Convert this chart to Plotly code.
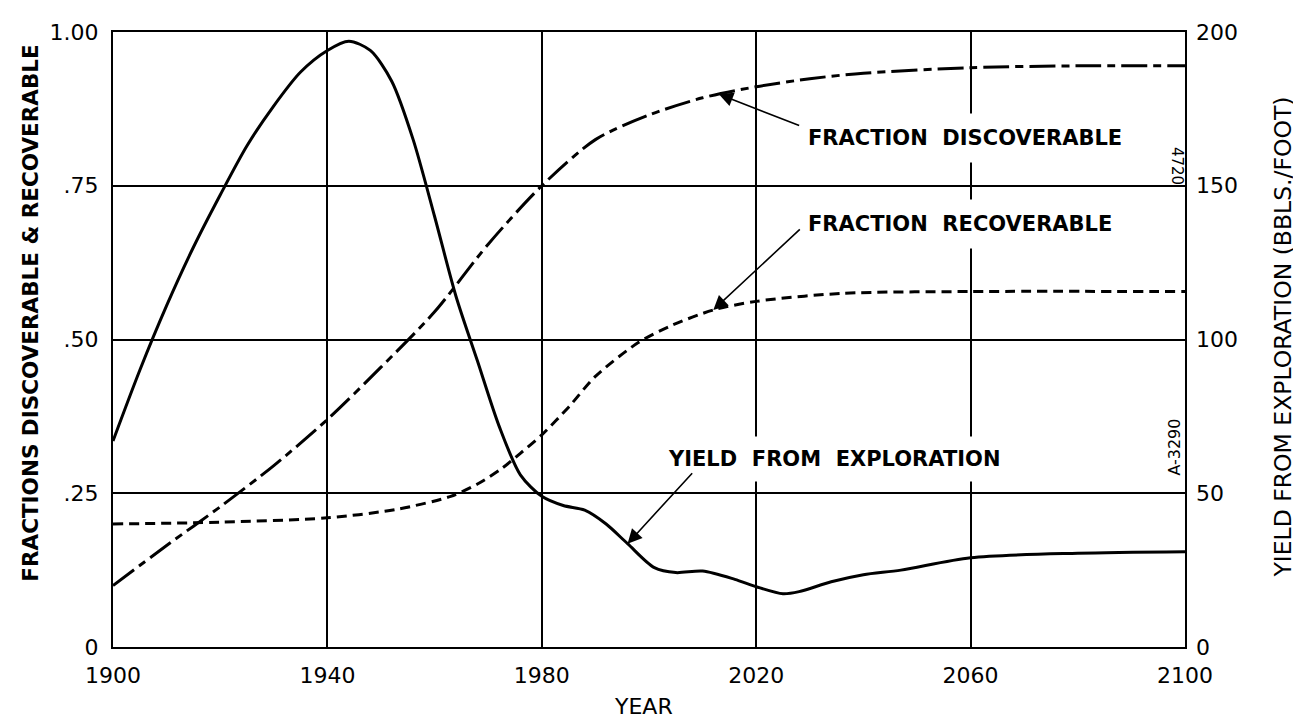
import plotly.graph_objects as go

# --- data ---
yield_years = [1900, 1905, 1910, 1915, 1920, 1925, 1930, 1935, 1940, 1944, 1948, 1952, 1956,
               1960, 1964, 1968, 1972, 1976, 1980, 1984, 1988, 1992, 1996, 2001, 2005, 2010,
               2016, 2020, 2025, 2028, 2034, 2040, 2047, 2060, 2080, 2100]
yield_bbls = [67, 90, 111, 130, 147, 163, 176, 187, 194, 197, 194, 184, 165,
              140, 114, 93, 72, 56, 49, 46, 44.5, 40, 33.6, 25.8, 24.2, 24.7,
              22, 19.6, 17.3, 18, 21.2, 23.5, 25, 29, 30.5, 31]

disc_years = [1900, 1910, 1920, 1930, 1940, 1950, 1960, 1970, 1980, 1990, 2000, 2010,
              2020, 2030, 2040, 2060, 2080, 2100]
disc_frac = [0.10, 0.165, 0.228, 0.295, 0.37, 0.455, 0.545, 0.655, 0.75, 0.825, 0.865, 0.893,
             0.911, 0.924, 0.933, 0.942, 0.945, 0.945]

rec_years = [1900, 1920, 1940, 1953, 1963, 1968, 1972.5, 1976, 1980, 1985, 1990, 1998,
             2004, 2012, 2020, 2036, 2060, 2100]
rec_frac = [0.20, 0.203, 0.21, 0.224, 0.245, 0.265, 0.29, 0.315, 0.345, 0.39, 0.44, 0.495,
            0.522, 0.548, 0.562, 0.575, 0.578, 0.578]

x_ticks = [1900, 1940, 1980, 2020, 2060, 2100]
y_ticks = [0, 0.25, 0.5, 0.75, 1.0]
y_ticktext = ["0", ".25", ".50", ".75", "1.00"]
y2_ticks = [0, 50, 100, 150, 200]

FONT = "DejaVu Sans"
OFF = 8  # page body margin
L, T, W, H = 105, 19, 1072, 620


def px(x):
    return (x - OFF - L) / W


def py(y):
    return 1 - (y - OFF - T) / H


fig = go.Figure()

fig.add_trace(go.Scatter(
    x=yield_years, y=yield_bbls, yaxis="y2", mode="lines",
    line=dict(color="black", width=3, shape="spline", smoothing=0.8),
    name="Yield from exploration"
))
fig.add_trace(go.Scatter(
    x=disc_years, y=disc_frac, mode="lines",
    line=dict(color="black", width=3, dash="26px,6px,8px,6px", shape="spline", smoothing=0.8),
    name="Fraction discoverable"
))
fig.add_trace(go.Scatter(
    x=rec_years, y=rec_frac, mode="lines",
    line=dict(color="black", width=3, dash="10px,6px", shape="spline", smoothing=0.8),
    name="Fraction recoverable"
))

label_font = dict(family=FONT, size=21, color="black")
annotations = [
    # labels (white boxes break the grid like the original)
    dict(x=px(795), y=py(134), text="<b>FRACTION  DISCOVERABLE</b>", xanchor="left",
         bgcolor="white", borderpad=12),
    dict(x=px(795), y=py(221), text="<b>FRACTION  RECOVERABLE</b>", xanchor="left",
         bgcolor="white", borderpad=12),
    dict(x=px(657), y=py(457), text="<b>YIELD  FROM  EXPLORATION</b>", xanchor="left",
         bgcolor="white", borderpad=10),
    dict(x=px(643), y=py(707), text="YEAR", xanchor="center", font=dict(family=FONT, size=22, color="black")),
]
for a in annotations:
    a.setdefault("font", label_font)
    a.update(xref="paper", yref="paper", showarrow=False, yanchor="middle")

# axis titles and margin notes
side_texts = [
    dict(x=px(31), y=py(311), textangle=-90, text="<b>FRACTIONS DISCOVERABLE & RECOVERABLE</b>",
         font=dict(family=FONT, size=21.5, color="black")),
    dict(x=px(1283), y=py(335), textangle=-90, text="YIELD FROM EXPLORATION (BBLS./FOOT)",
         font=dict(family=FONT, size=23.5, color="black")),
    dict(x=px(1177), y=py(162), textangle=90, text="4720",
         font=dict(family=FONT, size=15, color="black")),
    dict(x=px(1175), y=py(446), textangle=-90, text="A-3290",
         font=dict(family=FONT, size=16, color="black")),
]
for a in side_texts:
    a.update(xref="paper", yref="paper", showarrow=False, xanchor="center", yanchor="middle")
annotations += side_texts

# arrows
arrow = dict(text="", showarrow=True, arrowhead=2, arrowsize=1.8, arrowwidth=1.6, arrowcolor="black")
annotations += [
    dict(x=2013, y=0.899, xref="x", yref="y", ax=82, ay=32, **arrow),
    dict(x=2012, y=0.548, xref="x", yref="y", ax=88, ay=-82, **arrow),
    dict(x=1996, y=33.6, xref="x", yref="y2", ax=66, ay=-72, **arrow),
]

tick_font = dict(family=FONT, size=22, color="black")

fig.update_layout(
    width=1301, height=722,
    margin=dict(l=L, r=1301 - L - W, t=T, b=722 - T - H),
    paper_bgcolor="white", plot_bgcolor="white",
    showlegend=False,
    annotations=annotations,
    xaxis=dict(
        range=[1900, 2100], tickvals=x_ticks, tickfont=tick_font,
        showgrid=True, gridcolor="black", gridwidth=1.6,
        showline=True, linecolor="black", linewidth=2, mirror=True,
        zeroline=False, ticks="", ticklabelstandoff=8,
    ),
    yaxis=dict(
        range=[0, 1], tickvals=y_ticks, ticktext=y_ticktext, tickfont=tick_font,
        showgrid=True, gridcolor="black", gridwidth=1.6,
        showline=True, linecolor="black", linewidth=2, mirror=True,
        zeroline=False, ticks="", ticklabelstandoff=8,
    ),
    yaxis2=dict(
        range=[0, 200], tickvals=y2_ticks, tickfont=tick_font,
        overlaying="y", side="right", showgrid=False,
        showline=False, zeroline=False, ticks="", ticklabelstandoff=10,
    ),
)

fig.write_html("out.html")
